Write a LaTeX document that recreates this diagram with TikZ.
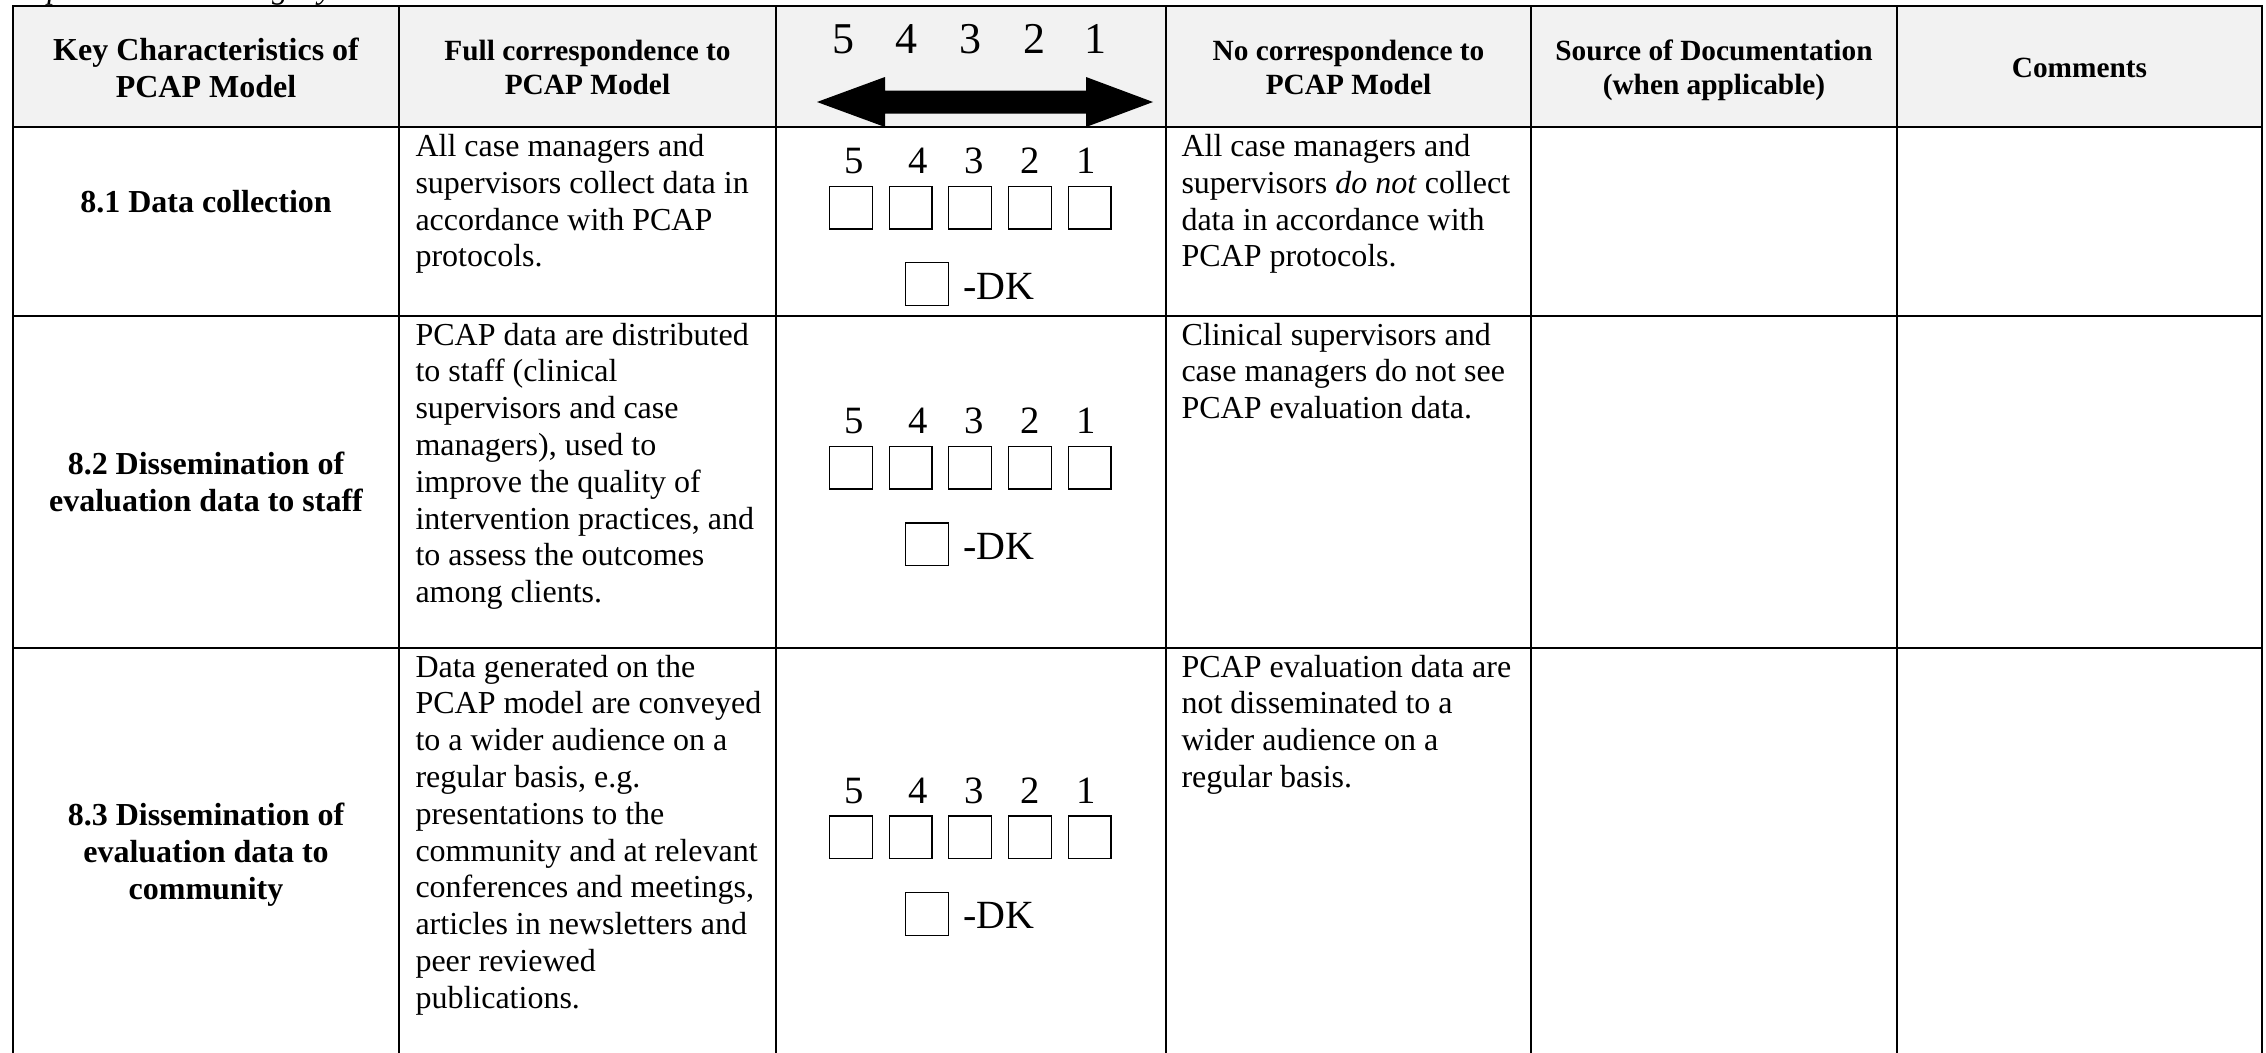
\documentclass[tikz,border=0pt]{standalone}
\usepackage{fontspec}
\setmainfont{Liberation Serif}
\definecolor{hdr}{RGB}{242,242,242}
\newcommand\Lcol[1]{\vtop{\halign{##\hfil\cr#1\crcr}}}
\newcommand\Ccol[1]{\vtop{\halign{\hfil##\hfil\cr#1\crcr}}}
\begin{document}
\begin{tikzpicture}[x=0.375pt,y=-0.375pt,
  grid/.style={line width=0.75pt},
  body/.style={inner sep=0pt,anchor=base west,font=\fontsize{12}{13.8}\selectfont},
  lab/.style={inner sep=0pt,anchor=base,font=\fontsize{12}{13.8}\selectfont\bfseries},
  hd/.style={inner sep=0pt,anchor=base,font=\fontsize{11}{12.65}\selectfont\bfseries},
  hdig/.style={inner sep=0pt,anchor=base,font=\fontsize{16.5}{19}\selectfont},
  dig/.style={inner sep=0pt,anchor=base,font=\fontsize{14.5}{17}\selectfont},
  dk/.style={inner sep=0pt,anchor=base west,font=\fontsize{15}{17}\selectfont},
  cbox/.style={draw,line width=0.5pt,minimum size=16pt,inner sep=0pt}]
\useasboundingbox (0,0) rectangle (2266,1053);
% header background
\fill[hdr] (12.7,6) rectangle (2262,127);
% grid
\draw[grid] (12.7,1060) -- (12.7,6) -- (2262,6) -- (2262,1060);
\foreach \x in {399,776,1166,1531,1897} \draw[grid] (\x,6) -- (\x,1060);
\foreach \y in {127,315.7,647.7} \draw[grid] (12.7,\y) -- (2262,\y);
% cut-off caption above the table
\node[inner sep=0pt,anchor=base west,font=\fontsize{12}{13.8}\selectfont\itshape] (cap) at (13,-2) {Implementation Integrity};
% header texts
\node[lab] (h1) at (206,60.5) {\Ccol{Key Characteristics of\cr PCAP Model}};
\node[hd] (h2) at (587.5,60.5) {\Ccol{Full correspondence to\cr PCAP Model}};
\node[hd] (h4) at (1348.5,60.5) {\Ccol{No correspondence to\cr PCAP Model}};
\node[hd] (h5) at (1714,60.5) {\Ccol{Source of Documentation\cr (when applicable)}};
\node[hd] (h6) at (2079.5,77.2) {Comments};
% header scale and double arrow
\foreach \d/\x in {5/843,4/906,3/970,2/1034,1/1095}
  \node[hdig] (hn\d) at (\x,53.3) {\d};
\fill (817,102) -- (885,77) -- (885,90.5) -- (1086,90.5) -- (1086,77) -- (1153,102)
  -- (1086,127) -- (1086,113.5) -- (885,113.5) -- (885,127) -- cycle;
% row labels
\node[lab] (r1) at (206,212.5) {8.1 Data collection};
\node[lab] (r2) at (206,474.5) {\Ccol{8.2 Dissemination of\cr evaluation data to staff}};
\node[lab] (r3) at (206,825.5) {\Ccol{8.3 Dissemination of\cr evaluation data to\cr community}};
% full correspondence texts
\node[body] (f1) at (415,156.5) {\Lcol{All case managers and\cr supervisors collect data in\cr accordance with PCAP\cr protocols.}};
\node[body] (f2) at (415,345) {\Lcol{PCAP data are distributed\cr to staff (clinical\cr supervisors and case\cr managers), used to\cr improve the quality of\cr intervention practices, and\cr to assess the outcomes\cr among clients.}};
\node[body] (f3) at (415,677) {\Lcol{Data generated on the\cr PCAP model are conveyed\cr to a wider audience on a\cr regular basis, e.g.\cr presentations to the\cr community and at relevant\cr conferences and meetings,\cr articles in newsletters and\cr peer reviewed\cr publications.}};
% no correspondence texts
\node[body] (z1) at (1181,156.5) {\Lcol{All case managers and\cr supervisors \textit{do not} collect\cr data in accordance with\cr PCAP protocols.}};
\node[body] (z2) at (1181,345) {\Lcol{Clinical supervisors and\cr case managers do not see\cr PCAP evaluation data.}};
\node[body] (z3) at (1181,677) {\Lcol{PCAP evaluation data are\cr not disseminated to a\cr wider audience on a\cr regular basis.}};
% rating scales
\foreach \r/\c in {1/221.4,2/481.7,3/851.3}{
  \foreach \d/\x in {5/854,4/918,3/974,2/1030,1/1086}
    \node[dig] (n\r\d) at (\x,{\c-48}) {\d};
  \foreach \d/\x in {5/851,4/910.5,3/970,2/1030,1/1089.5}
    \node[cbox] (b\r\d) at (\x,{\c-13.9}) {};
  \node[cbox] (k\r) at (927,{\c+62.6}) {};
  \node[dk] (t\r) at (963,{\c+77.6}) {-DK};
}
\end{tikzpicture}
\end{document}
